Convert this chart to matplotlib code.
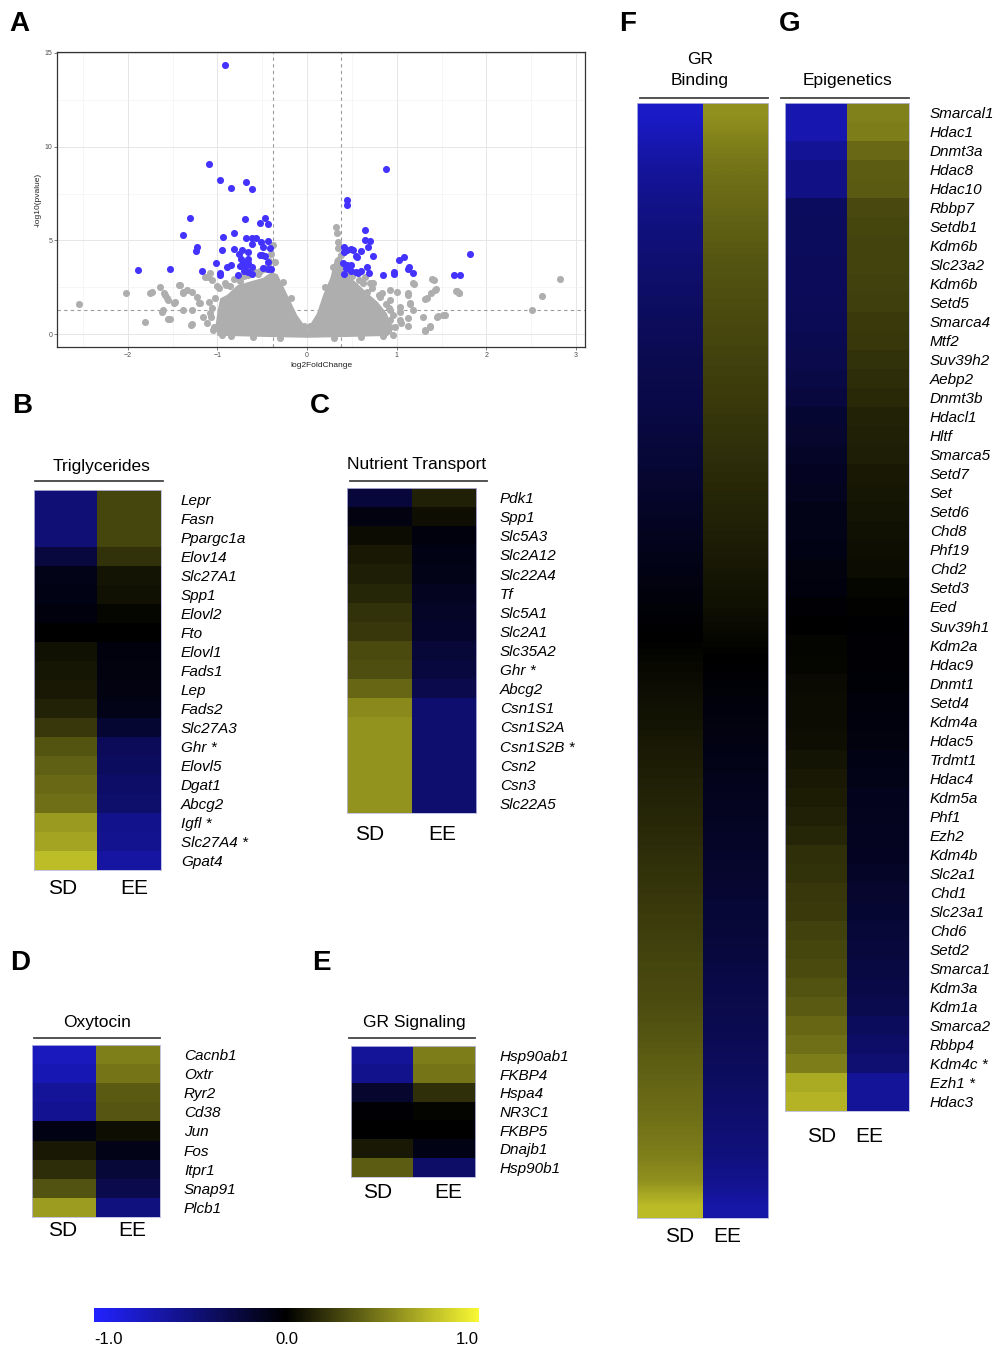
import numpy as np
import matplotlib
matplotlib.use("Agg")
import matplotlib.pyplot as plt
from matplotlib.colors import LinearSegmentedColormap, Normalize
from matplotlib.cm import ScalarMappable
from matplotlib.lines import Line2D

plt.rcParams['font.family'] = ['Liberation Sans', 'DejaVu Sans']

# ---------------- data: volcano (A) ----------------
sig_x = [-0.92, -1.09, -0.97, -0.85, -0.68, -0.62, -1.31, -0.69, -0.47, -0.53, -0.44, -1.38,
         -0.82, -0.94, -0.68, -0.62, -0.57, -0.51, -0.44, -0.61, -0.49, -0.41, -1.23, -1.24,
         -0.95, -0.82, -0.73, -0.66, -0.76, -0.53, -0.50, -0.47, -0.74, -0.66, -1.02, -0.71,
         -0.66, -0.44, -0.85, -0.89, -0.75, -0.69, -0.62, -0.49, -0.44, -0.40, -1.53, -1.89,
         -1.17, -0.70, -0.66, -0.97, -0.97, -0.77, -0.62,
         0.88, 0.45, 0.44, 0.65, 0.65, 0.70, 0.68, 0.41, 0.45, 0.49, 0.51, 0.41, 0.60, 0.55,
         0.56, 0.73, 1.82, 1.08, 1.03, 0.40, 0.44, 0.49, 0.43, 0.67, 1.14, 1.12, 0.49, 0.54,
         0.60, 0.57, 0.69, 0.97, 0.97, 1.18, 0.85, 1.64, 1.71, 0.41]
sig_y = [14.35, 9.06, 8.2, 7.8, 8.1, 7.75, 6.2, 6.15, 6.2, 5.93, 5.86, 5.26,
         5.4, 5.17, 5.15, 5.1, 5.1, 4.9, 4.97, 4.8, 4.65, 4.58, 4.65, 4.44,
         4.5, 4.55, 4.5, 4.4, 4.27, 4.23, 4.2, 4.16, 4.02, 3.98, 3.79, 3.84,
         3.77, 3.82, 3.66, 3.6, 3.63, 3.6, 3.56, 3.52, 3.49, 3.49, 3.49, 3.42,
         3.38, 3.38, 3.31, 3.24, 3.13, 3.15, 3.2,
         8.81, 7.13, 6.9, 5.54, 5.0, 4.94, 4.62, 4.62, 4.51, 4.55, 4.48, 4.37, 4.44, 4.19,
         4.09, 4.19, 4.27, 4.09, 3.95, 3.77, 3.7, 3.66, 3.52, 3.6, 3.6, 3.45, 3.35, 3.31,
         3.38, 3.24, 3.24, 3.31, 3.2, 3.24, 3.15, 3.17, 3.15, 3.2]

gray_x = [-2.55, -2.02, -1.81, -1.75, -1.64, -1.60, -1.56, -1.55, -1.62, -1.48, -1.43, -1.38,
          -1.34, -1.30, -1.28, -1.21, -1.10, 2.82, 2.62, 2.51, 1.39, 1.44, 1.38, 1.32, 1.52,
          1.46, 1.31, 1.37, 1.19, 1.66, 1.70, 1.13, 1.15, 1.13, 1.05, 0.32, 0.33, -0.38, 0.35,
          -1.73, -1.58, -1.55, -1.61, -1.53, -1.47, -1.42, -1.38, -1.28, -1.38, -1.28, -1.23,
          -1.19, -1.16, -1.12, -1.08, -1.14, -1.08, -1.06, -1.05,
          0.93, 1.0, 0.93, 1.04, 0.93, 1.13, 1.18, 1.15, 1.18, 1.13, 1.29, 1.32, 1.37, 1.41,
          1.43, 1.34, 1.45, 1.54, 1.67, 1.70, 0.74, 0.70, 0.67, 0.81, 0.93, 1.04, 1.04, 0.93, 0.65,
          -0.98, -0.90, -0.82, -0.70, -0.58, -0.47, -0.42, -0.40, -0.36, -0.55, -0.75, -1.03,
          -1.06, -1.07, -1.04, -0.95, -0.03, 0.03, -0.18, 0.20, -0.27, 0.29, 0.34, 0.38, 0.44,
          0.50, 0.58, 0.80, 0.88, 0.96, 0.98, 0.96, 0.85, 0.60, 0.30, -0.30, -0.60, -0.85,
          -0.92, -0.86, -0.66, -0.52, -0.44, 0.47, 0.62, 0.72, 0.84, 0.91, -1.0, -1.09]
gray_y = [1.61, 2.21, 0.64, 2.21, 2.5, 2.21, 1.95, 0.81, 1.2, 1.68, 2.62, 2.27,
          2.35, 0.5, 1.29, 1.65, 3.06, 2.92, 2.04, 1.29, 2.96, 2.39, 2.18, 1.89, 1.03,
          0.94, 0.19, 0.41, 2.67, 2.32, 2.18, 2.18, 1.61, 0.44, 0.58, 5.72, 5.4, 4.74, 4.57,
          2.23, 2.07, 1.8, 1.28, 0.8, 1.7, 2.6, 2.2, 2.23, 1.28, 0.53, 1.97,
          1.65, 0.9, 0.58, 1.1, 3.03, 3.24, 2.87, 0.2,
          2.34, 2.23, 1.28, 1.17, 0.37, 2.07, 2.7, 1.65, 1.28, 0.85, 0.9, 0.2, 0.37, 2.87,
          2.34, 1.9, 0.9, 1.0, 2.29, 2.18, 2.7, 2.7, 2.23, 1.97, 0.74, 0.74, 1.44, 1.8, 3.03,
          2.45, 2.6, 2.95, 3.1, 3.3, 3.45, 3.9, 4.25, 3.85, 3.2, 2.85, 1.9,
          1.4, 0.9, 0.4, -0.05, 0.45, 0.45, 1.9, 2.5, 2.8, 3.6, 4.9, 4.2, 3.6,
          3.1, 2.9, 2.1, 1.6, 1.0, 0.4, -0.05, -0.1, -0.15, -0.2, -0.2, -0.15, -0.1,
          2.7, 2.55, 3.15, 3.35, 3.7, 3.3, 2.75, 2.45, 2.2, 1.4, 2.55, 1.7]

# dense non-significant core, outline
cloud_x = [-1.0, -1.02, -1.0, -0.97, -0.89, -0.78, -0.64, -0.49, -0.40, -0.33, -0.30, -0.22,
           -0.11, 0.0, 0.11, 0.18, 0.26, 0.31, 0.36, 0.42, 0.56, 0.67, 0.79, 0.89, 0.93, 0.95,
           0.90, 0.50, 0.0, -0.50, -0.90]
cloud_y = [-0.1, 0.5, 1.2, 1.9, 2.1, 2.6, 2.8, 3.0, 3.3, 3.2, 2.9, 2.1,
           1.0, 0.25, 1.1, 2.1, 3.0, 4.0, 4.2, 3.3, 2.7, 2.2, 1.7, 1.1, 0.6, 0.1,
           -0.1, -0.15, -0.2, -0.15, -0.1]

fc_cut = [-0.38, 0.38]
p_cut = 1.3

# ---------------- data: heatmaps ----------------
trig_genes = ['Lepr', 'Fasn', 'Ppargc1a', 'Elov14', 'Slc27A1', 'Spp1', 'Elovl2', 'Fto', 'Elovl1',
              'Fads1', 'Lep', 'Fads2', 'Slc27A3', 'Ghr *', 'Elovl5', 'Dgat1', 'Abcg2', 'Igfl *',
              'Slc27A4 *', 'Gpat4']
trig_sd = [-0.46, -0.46, -0.46, -0.25, -0.1, -0.08, -0.05, 0.0, 0.07, 0.09, 0.1, 0.14, 0.22,
           0.34, 0.39, 0.42, 0.45, 0.62, 0.66, 0.76]
trig_ee = [0.28, 0.28, 0.28, 0.2, 0.08, 0.07, 0.03, 0.0, -0.05, -0.06, -0.07, -0.09, -0.2,
           -0.35, -0.37, -0.4, -0.42, -0.55, -0.56, -0.63]

nut_genes = ['Pdk1', 'Spp1', 'Slc5A3', 'Slc2A12', 'Slc22A4', 'Tf', 'Slc5A1', 'Slc2A1', 'Slc35A2',
             'Ghr *', 'Abcg2', 'Csn1S1', 'Csn1S2A', 'Csn1S2B *', 'Csn2', 'Csn3', 'Slc22A5']
nut_sd = [-0.23, -0.07, 0.05, 0.1, 0.12, 0.15, 0.2, 0.22, 0.3, 0.32, 0.41, 0.55, 0.59, 0.59,
          0.59, 0.59, 0.59]
nut_ee = [0.13, 0.06, -0.05, -0.08, -0.1, -0.13, -0.15, -0.17, -0.22, -0.25, -0.3, -0.43, -0.43,
          -0.43, -0.43, -0.43, -0.43]

oxy_genes = ['Cacnb1', 'Oxtr', 'Ryr2', 'Cd38', 'Jun', 'Fos', 'Itpr1', 'Snap91', 'Plcb1']
oxy_sd = [-0.74, -0.7, -0.6, -0.57, -0.08, 0.1, 0.18, 0.33, 0.63]
oxy_ee = [0.51, 0.47, 0.36, 0.35, 0.06, -0.1, -0.22, -0.3, -0.5]

grs_genes = ['Hsp90ab1', 'FKBP4', 'Hspa4', 'NR3C1', 'FKBP5', 'Dnajb1', 'Hsp90b1']
grs_sd = [-0.6, -0.55, -0.18, -0.02, 0.0, 0.1, 0.37]
grs_ee = [0.5, 0.47, 0.19, 0.02, 0.0, -0.08, -0.4]

grb_sd = [-0.78, -0.70, -0.62, -0.56, -0.51, -0.47, -0.44, -0.40, -0.37, -0.34, -0.31, -0.29,
          -0.27, -0.24, -0.21, -0.18, -0.15, -0.12, -0.09, -0.06, -0.03, 0.0, 0.03, 0.05, 0.07,
          0.09, 0.11, 0.13, 0.15, 0.17, 0.19, 0.21, 0.23, 0.25, 0.27, 0.29, 0.31, 0.34, 0.37,
          0.40, 0.43, 0.47, 0.51, 0.58, 0.75]
grb_ee = [0.58, 0.52, 0.47, 0.43, 0.40, 0.37, 0.34, 0.32, 0.30, 0.28, 0.26, 0.24, 0.22, 0.20,
          0.18, 0.16, 0.14, 0.12, 0.10, 0.08, 0.06, 0.03, 0.0, -0.03, -0.05, -0.07, -0.09, -0.11,
          -0.13, -0.15, -0.17, -0.19, -0.21, -0.23, -0.25, -0.28, -0.30, -0.32, -0.35, -0.38,
          -0.41, -0.45, -0.49, -0.55, -0.65]

epi_genes = ['Smarcal1', 'Hdac1', 'Dnmt3a', 'Hdac8', 'Hdac10', 'Rbbp7', 'Setdb1', 'Kdm6b',
             'Slc23a2', 'Kdm6b', 'Setd5', 'Smarca4', 'Mtf2', 'Suv39h2', 'Aebp2', 'Dnmt3b',
             'Hdacl1', 'Hltf', 'Smarca5', 'Setd7', 'Set', 'Setd6', 'Chd8', 'Phf19', 'Chd2',
             'Setd3', 'Eed', 'Suv39h1', 'Kdm2a', 'Hdac9', 'Dnmt1', 'Setd4', 'Kdm4a', 'Hdac5',
             'Trdmt1', 'Hdac4', 'Kdm5a', 'Phf1', 'Ezh2', 'Kdm4b', 'Slc2a1', 'Chd1', 'Slc23a1',
             'Chd6', 'Setd2', 'Smarca1', 'Kdm3a', 'Kdm1a', 'Smarca2', 'Rbbp4', 'Kdm4c *',
             'Ezh1 *', 'Hdac3']
epi_sd = [-0.68, -0.68, -0.58, -0.52, -0.52, -0.37, -0.36, -0.36, -0.35, -0.35, -0.34, -0.33,
          -0.32, -0.30, -0.27, -0.25, -0.20, -0.18, -0.15, -0.14, -0.12, -0.10, -0.09, -0.08,
          -0.06, -0.05, -0.02, 0.0, 0.02, 0.03, 0.04, 0.05, 0.05, 0.06, 0.08, 0.10, 0.11, 0.13,
          0.15, 0.19, 0.20, 0.22, 0.23, 0.26, 0.28, 0.30, 0.33, 0.36, 0.41, 0.45, 0.50, 0.68, 0.72]
epi_ee = [0.52, 0.50, 0.42, 0.37, 0.36, 0.29, 0.28, 0.27, 0.27, 0.26, 0.25, 0.23, 0.22, 0.20,
          0.18, 0.17, 0.14, 0.13, 0.12, 0.10, 0.09, 0.08, 0.07, 0.06, 0.05, 0.03, 0.01, -0.01,
          -0.02, -0.02, -0.03, -0.04, -0.05, -0.06, -0.08, -0.10, -0.11, -0.12, -0.13, -0.14,
          -0.16, -0.18, -0.20, -0.22, -0.24, -0.26, -0.28, -0.31, -0.36, -0.40, -0.44, -0.60, -0.60]

cbar_ticks = [-1.0, 0.0, 1.0]
cbar_labels = ['-1.0', '0.0', '1.0']
group_labels = ['SD', 'EE']

# ---------------- figure ----------------
W, H = 998, 1347
fig = plt.figure(figsize=(W / 100, H / 100), dpi=100)
fig.patch.set_facecolor('white')


def rect(x0, y0, x1, y1):
    return [x0 / W, 1 - y1 / H, (x1 - x0) / W, (y1 - y0) / H]


def ftext(x, y, s, **kw):
    return fig.text(x / W, 1 - y / H, s, **kw)


def hline(x0, x1, y, color='#444444', lw=1.3):
    fig.add_artist(Line2D([x0 / W, x1 / W], [1 - y / H, 1 - y / H], color=color, lw=lw,
                          transform=fig.transFigure))


cmap = LinearSegmentedColormap.from_list('bky', [(0.0, '#2222ff'), (0.5, '#000000'),
                                                 (1.0, '#f8f834')])
norm = Normalize(vmin=-1, vmax=1)

# ----- A: volcano -----
ax = fig.add_axes(rect(57, 52, 585, 347))
ax.set_xlim(-2.79, 3.10)
ax.set_ylim(-0.69, 15.05)
ax.set_xticks([-2, -1, 0, 1, 2, 3])
ax.set_yticks([0, 5, 10, 15])
ax.set_xticks([-2.5, -1.5, -0.5, 0.5, 1.5, 2.5], minor=True)
ax.set_yticks([2.5, 7.5, 12.5], minor=True)
ax.grid(True, which='major', color='#e6e6e6', lw=0.7, zorder=0)
ax.grid(True, which='minor', color='#f0f0f0', lw=0.4, zorder=0)
ax.set_axisbelow(True)
ax.tick_params(which='major', labelsize=5, colors='#4d4d4d', length=2, width=0.5, pad=1.5)
ax.tick_params(which='minor', length=0)
for s in ax.spines.values():
    s.set_color('#333333')
    s.set_linewidth(0.9)
for xv in fc_cut:
    ax.axvline(xv, color='#9a9a9a', lw=0.8, ls=(0, (3, 3)), zorder=1)
ax.axhline(p_cut, color='#9a9a9a', lw=0.8, ls=(0, (3, 3)), zorder=1)
ax.fill(cloud_x, cloud_y, color='#aeaeae', lw=0, zorder=2)
ax.scatter(gray_x, gray_y, s=26, color='#aeaeae', lw=0, zorder=3)
ax.scatter(sig_x, sig_y, s=26, color='#4433ff', lw=0, zorder=4)
ax.set_xlabel('log2FoldChange', fontsize=6, color='#222222', labelpad=2)
ax.set_ylabel('-log10(pvalue)', fontsize=6, color='#222222', labelpad=2)


# ----- heatmap helper -----
def heat(x0, y0, x1, y1, sd, ee, genes=None, label_gap=20, smooth=False):
    hax = fig.add_axes(rect(x0, y0, x1, y1))
    n = len(sd)
    if smooth:
        for i, col in enumerate([sd, ee]):
            hax.imshow(np.array(col).reshape(-1, 1), cmap=cmap, norm=norm, aspect='auto',
                       interpolation='bilinear', extent=(i - 0.5, i + 0.5, n - 0.5, -0.5))
        hax.set_xlim(-0.5, 1.5)
        hax.set_ylim(n - 0.5, -0.5)
    else:
        data = np.column_stack([sd, ee])
        hax.imshow(data, cmap=cmap, norm=norm, aspect='auto', interpolation='nearest')
    hax.set_xticks([])
    if genes is not None:
        hax.yaxis.tick_right()
        hax.set_yticks(range(len(genes)))
        hax.set_yticklabels(genes, fontsize=11, style='italic')
        hax.tick_params(axis='y', length=0, pad=label_gap * 0.72)
    else:
        hax.set_yticks([])
    for s in hax.spines.values():
        s.set_color('#b9b9e0')
        s.set_linewidth(0.6)
    return hax


# B
heat(34, 490, 161, 870, trig_sd, trig_ee, trig_genes, 20)
ftext(102, 466, 'Triglycerides', fontsize=12.5, ha='center', va='center')
hline(35, 163, 481)
ftext(63, 888, group_labels[0], fontsize=15, ha='center', va='center')
ftext(134, 888, group_labels[1], fontsize=15, ha='center', va='center')

# C
heat(347, 488, 476, 813, nut_sd, nut_ee, nut_genes, 24)
ftext(417, 465, 'Nutrient Transport', fontsize=12.5, ha='center', va='center')
hline(350, 487, 481)
ftext(370, 834, group_labels[0], fontsize=15, ha='center', va='center')
ftext(442, 834, group_labels[1], fontsize=15, ha='center', va='center')

# D
heat(32, 1045, 160, 1217, oxy_sd, oxy_ee, oxy_genes, 24)
ftext(97, 1022, 'Oxytocin', fontsize=12.5, ha='center', va='center')
hline(34, 160, 1038)
ftext(63, 1230, group_labels[0], fontsize=15, ha='center', va='center')
ftext(132, 1230, group_labels[1], fontsize=15, ha='center', va='center')

# E
heat(351, 1046, 475, 1177, grs_sd, grs_ee, grs_genes, 25)
ftext(414, 1022, 'GR Signaling', fontsize=12.5, ha='center', va='center')
hline(349, 475, 1038)
ftext(378, 1192, group_labels[0], fontsize=15, ha='center', va='center')
ftext(448, 1192, group_labels[1], fontsize=15, ha='center', va='center')

# F
heat(637, 103, 768, 1218, grb_sd, grb_ee, None, smooth=True)
ftext(700, 60, 'GR', fontsize=12.5, ha='center', va='center')
ftext(700, 81, 'Binding', fontsize=12.5, ha='center', va='center')
hline(640, 768, 98)
ftext(680, 1237, group_labels[0], fontsize=15, ha='center', va='center')
ftext(727, 1237, group_labels[1], fontsize=15, ha='center', va='center')

# G
heat(785, 103, 909, 1111, epi_sd, epi_ee, epi_genes, 21)
ftext(847, 81, 'Epigenetics', fontsize=12.5, ha='center', va='center')
hline(781, 909, 98)
ftext(822, 1137, group_labels[0], fontsize=15, ha='center', va='center')
ftext(869, 1137, group_labels[1], fontsize=15, ha='center', va='center')

# panel letters
for letter, (lx, ly) in zip('ABCDEFG', [(19, 24), (22, 406), (320, 406), (20, 963),
                                         (321, 963), (628, 24), (790, 24)]):
    ftext(lx, ly, letter, fontsize=20, fontweight='bold', ha='center', va='center')

# colorbar
cax = fig.add_axes(rect(94, 1308, 479, 1322))
cb = fig.colorbar(ScalarMappable(norm=norm, cmap=cmap), cax=cax, orientation='horizontal')
cb.outline.set_visible(False)
cb.set_ticks(cbar_ticks)
cb.set_ticklabels(cbar_labels)
cax.tick_params(length=0, labelsize=12, pad=7)
tl = cax.get_xticklabels()
tl[0].set_horizontalalignment('left')
tl[2].set_horizontalalignment('right')

fig.savefig('out.png', dpi=100, facecolor='white')
